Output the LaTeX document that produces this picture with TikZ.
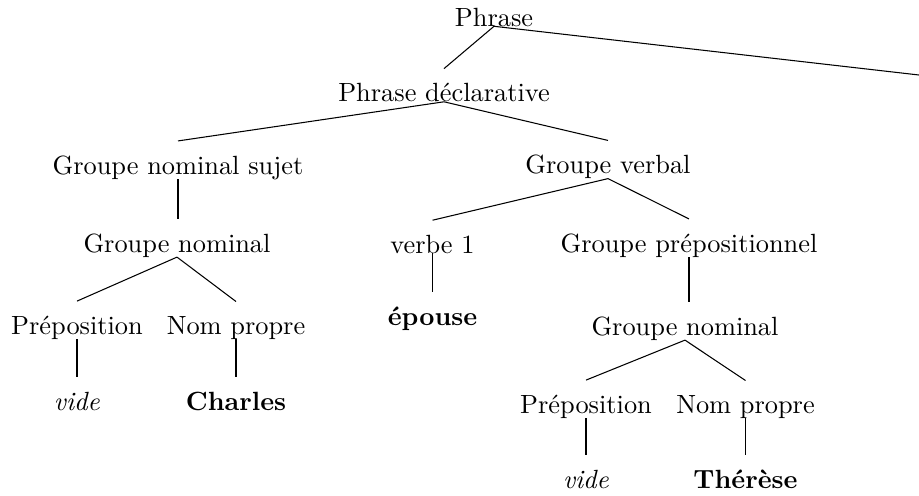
\documentclass[tikz,border=0pt]{standalone}
\begin{document}
\begin{tikzpicture}[x=0.3795pt,y=-0.3795pt,
  lbl/.style={inner sep=0pt, outer sep=0pt, anchor=base},
  edge/.style={line width=0.4pt}]
\useasboundingbox (0,0) rectangle (919,496);
% nodes
\node[lbl] (phrase) at (494,26) {Phrase};
\node[lbl] (pd) at (444,101.5) {Phrase déclarative};
\coordinate (off) at (919,75);
\node[lbl] (gns) at (178,174) {Groupe nominal sujet};
\node[lbl] (gv) at (608,173.5) {Groupe verbal};
\node[lbl] (gna) at (177,252) {Groupe nominal};
\node[lbl] (prepa) at (77,334) {Préposition};
\node[lbl] (npa) at (236,334) {Nom propre};
\node[lbl] (videa) at (77,410) {\textit{vide}};
\node[lbl] (charles) at (236,410) {\textbf{Charles}};
\node[lbl] (verbe) at (432.5,253) {verbe 1};
\node[lbl] (gp) at (689,252) {Groupe prépositionnel};
\node[lbl] (epouse) at (432.5,325) {\textbf{épouse}};
\node[lbl] (gnb) at (685,335) {Groupe nominal};
\node[lbl] (prepb) at (586,413) {Préposition};
\node[lbl] (npb) at (745.5,413) {Nom propre};
\node[lbl] (videb) at (586,488) {\textit{vide}};
\node[lbl] (therese) at (745.5,488) {\textbf{Thérèse}};
% edges
\draw[edge] (phrase.south) -- ([yshift=5.5pt]pd.north);
\draw[edge] (phrase.south) -- (off);
\draw[edge] (pd.south) -- ([yshift=5.5pt]gns.north);
\draw[edge] (pd.south) -- ([yshift=5.5pt]gv.north);
\draw[edge] (gns.south) -- ([yshift=5.5pt]gns.south |- gna.north);
\draw[edge] (gna.south) -- ([yshift=5.5pt]prepa.north);
\draw[edge] (gna.south) -- ([yshift=5.5pt]npa.north);
\draw[edge] (prepa.south) -- ([yshift=5.5pt]prepa.south |- videa.north);
\draw[edge] (npa.south) -- ([yshift=5.5pt]npa.south |- charles.north);
\draw[edge] (gv.south) -- ([yshift=5.5pt]verbe.north);
\draw[edge] (gv.south) -- ([yshift=5.5pt]gp.north);
\draw[edge] (verbe.south) -- ([yshift=5.5pt]verbe.south |- epouse.north);
\draw[edge] (gp.south) -- ([yshift=5.5pt]gp.south |- gnb.north);
\draw[edge] (gnb.south) -- ([yshift=5.5pt]prepb.north);
\draw[edge] (gnb.south) -- ([yshift=5.5pt]npb.north);
\draw[edge] (prepb.south) -- ([yshift=5.5pt]prepb.south |- videb.north);
\draw[edge] (npb.south) -- ([yshift=5.5pt]npb.south |- therese.north);
\end{tikzpicture}
\end{document}
